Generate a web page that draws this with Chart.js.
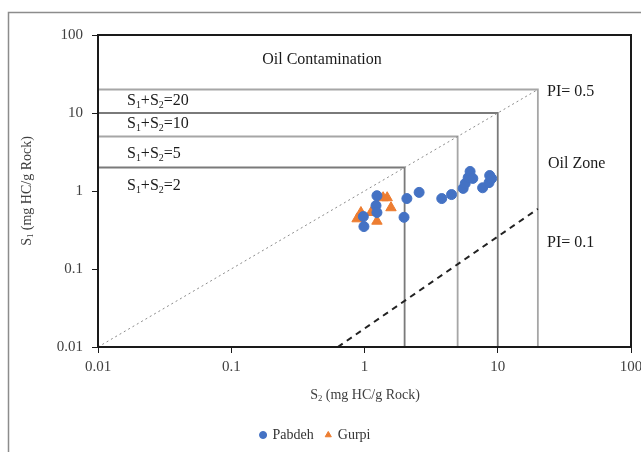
<!DOCTYPE html>
<html>
<head>
<meta charset="utf-8">
<script src="https://cdn.jsdelivr.net/npm/chart.js@4.4.1/dist/chart.umd.min.js"></script>
<style>
  html, body { margin: 0; padding: 0; background: #fff; }
  #wrap { width: 641px; height: 452px; position: relative; }
</style>
</head>
<body>
<div id="wrap"><canvas id="chart"></canvas></div>
<script>
// decade ticks on both log axes
const tickValues = [0.01, 0.1, 1, 10, 100];

// Pabdeh samples (S2, S1)
const pabdehS2 = [1.24, 1.22, 1.24, 0.98, 0.99, 2.08, 1.98, 2.57, 3.8, 4.5, 5.5, 5.7, 6.0, 6.2, 6.5, 7.7, 8.6, 8.7, 9.0];
const pabdehS1 = [0.87, 0.65, 0.53, 0.47, 0.35, 0.80, 0.46, 0.96, 0.80, 0.90, 1.08, 1.25, 1.49, 1.78, 1.45, 1.10, 1.28, 1.58, 1.45];

// Gurpi samples (S2, S1)
const gurpiS2 = [0.88, 0.94, 1.12, 1.38, 1.48, 1.58, 1.24];
const gurpiS1 = [0.44, 0.53, 0.53, 0.82, 0.82, 0.61, 0.41];

// S1+S2 boundary boxes
const boxValues = [2, 5, 10, 20];

// PI lines: start and end points
const pi05S2 = [0.01, 20];
const pi05S1 = [0.01, 20];
const pi01S2 = [0.63, 20];
const pi01S1 = [0.01, 0.59];

const serif = '"Liberation Serif", "DejaVu Serif", serif';

function pairs(xs, ys) {
  return xs.map((x, i) => ({ x: x, y: ys[i] }));
}

const boxDatasets = boxValues.map(v => ({
  label: 'S1+S2=' + v,
  data: [{ x: 0.01, y: v }, { x: v, y: v }, { x: v, y: 0.01 }],
  showLine: true,
  borderColor: (v === 10 || v === 2) ? '#7a7a7a' : '#a6a6a6',
  borderWidth: 1.8,
  pointRadius: 0,
  fill: false,
  order: 5
}));

// draws text with a subscript digit, e.g. S_1
function subText(ctx, parts, x, y, size) {
  let cx = x;
  parts.forEach(p => {
    if (p.sub) {
      ctx.font = (size * 0.62) + 'px ' + serif;
      ctx.fillText(p.t, cx, y + size * 0.25);
    } else {
      ctx.font = size + 'px ' + serif;
      ctx.fillText(p.t, cx, y);
    }
    cx += ctx.measureText(p.t).width;
  });
  return cx - x;
}

function measureSub(ctx, parts, size) {
  let w = 0;
  parts.forEach(p => {
    ctx.font = (p.sub ? size * 0.62 : size) + 'px ' + serif;
    w += ctx.measureText(p.t).width;
  });
  return w;
}

const decorations = {
  id: 'decorations',
  beforeDraw(chart) {
    const ctx = chart.ctx;
    ctx.save();
    ctx.fillStyle = '#fff';
    ctx.fillRect(0, 0, chart.width, chart.height);
    // outer figure frame
    ctx.strokeStyle = '#8c8c8c';
    ctx.lineWidth = 1.5;
    ctx.beginPath();
    ctx.moveTo(chart.width, 12.5);
    ctx.lineTo(8.5, 12.5);
    ctx.lineTo(8.5, chart.height);
    ctx.stroke();
    ctx.restore();
  },
  afterDraw(chart) {
    const ctx = chart.ctx;
    const a = chart.chartArea;
    ctx.save();
    // plot frame
    ctx.strokeStyle = '#1a1a1a';
    ctx.lineWidth = 2;
    ctx.strokeRect(a.left, a.top, a.right - a.left, a.bottom - a.top);

    ctx.fillStyle = '#1a1a1a';
    ctx.textBaseline = 'middle';
    ctx.textAlign = 'left';

    ctx.font = '16px ' + serif;
    ctx.textAlign = 'center';
    ctx.fillText('Oil Contamination', 322, 60);
    ctx.textAlign = 'left';

    const boxLabelY = { 20: 101, 10: 124, 5: 154, 2: 186 };
    boxValues.forEach(v => {
      subText(ctx, [{ t: 'S' }, { t: '1', sub: true }, { t: '+S' }, { t: '2', sub: true }, { t: '=' + v }], 127, boxLabelY[v], 16);
    });

    ctx.font = '16px ' + serif;
    ctx.fillText('PI= 0.5', 547, 92);
    ctx.fillText('Oil Zone', 548, 164);
    ctx.fillText('PI= 0.1', 547, 243);

    // axis titles
    ctx.fillStyle = '#404040';
    const xt = [{ t: 'S' }, { t: '2', sub: true }, { t: ' (mg HC/g Rock)' }];
    const xw = measureSub(ctx, xt, 14);
    subText(ctx, xt, 365 - xw / 2, 395, 14);

    const yt = [{ t: 'S' }, { t: '1', sub: true }, { t: ' (mg HC/g Rock)' }];
    const yw = measureSub(ctx, yt, 14);
    ctx.translate(27, 191);
    ctx.rotate(-Math.PI / 2);
    subText(ctx, yt, -yw / 2, 0, 14);
    ctx.restore();
  }
};

new Chart(document.getElementById('chart'), {
  type: 'scatter',
  data: {
    datasets: [
      {
        label: 'Pabdeh',
        data: pairs(pabdehS2, pabdehS1),
        backgroundColor: '#4472c4',
        borderColor: '#4472c4',
        pointStyle: 'circle',
        pointRadius: 5,
        order: 1
      },
      {
        label: 'Gurpi',
        data: pairs(gurpiS2, gurpiS1),
        backgroundColor: '#ed7d31',
        borderColor: '#ed7d31',
        pointStyle: 'triangle',
        pointRadius: 6,
        order: 2
      },
      ...boxDatasets,
      {
        label: 'PI=0.5',
        data: pairs(pi05S2, pi05S1),
        showLine: true,
        borderColor: '#8c8c8c',
        borderWidth: 1,
        borderDash: [2, 3],
        pointRadius: 0,
        order: 4
      },
      {
        label: 'PI=0.1',
        data: pairs(pi01S2, pi01S1),
        showLine: true,
        borderColor: '#222',
        borderWidth: 2,
        borderDash: [6, 5],
        pointRadius: 0,
        order: 3
      }
    ]
  },
  options: {
    responsive: true,
    maintainAspectRatio: false,
    animation: false,
    layout: { padding: { left: 0, top: 35, right: 10, bottom: 0 } },
    plugins: {
      legend: {
        display: true,
        position: 'bottom',
        labels: {
          filter: item => item.text === 'Pabdeh' || item.text === 'Gurpi',
          usePointStyle: true,
          boxWidth: 5,
          boxHeight: 5,
          padding: 12,
          color: '#333',
          font: { family: serif, size: 14 }
        }
      },
      tooltip: { enabled: false }
    },
    scales: {
      x: {
        type: 'logarithmic',
        min: 0.01,
        max: 100,
        afterBuildTicks: s => { s.ticks = tickValues.map(v => ({ value: v })); },
        afterFit: s => { s.height = 69; s.paddingLeft = 0; s.paddingRight = 0; },
        grid: { drawOnChartArea: false, drawTicks: true, tickLength: 6, color: '#1a1a1a' },
        border: { display: false },
        ticks: {
          color: '#404040',
          padding: 5,
          maxRotation: 0,
          autoSkip: false,
          font: { family: serif, size: 15 },
          callback: v => String(v)
        }
      },
      y: {
        type: 'logarithmic',
        min: 0.01,
        max: 100,
        afterBuildTicks: s => { s.ticks = tickValues.map(v => ({ value: v })); },
        afterFit: s => { s.width = 98; s.paddingTop = 0; s.paddingBottom = 0; },
        grid: { drawOnChartArea: false, drawTicks: true, tickLength: 6, color: '#1a1a1a' },
        border: { display: false },
        ticks: {
          color: '#404040',
          padding: 9,
          autoSkip: false,
          font: { family: serif, size: 15 },
          callback: v => String(v)
        }
      }
    }
  },
  plugins: [decorations]
});
</script>
</body>
</html>
